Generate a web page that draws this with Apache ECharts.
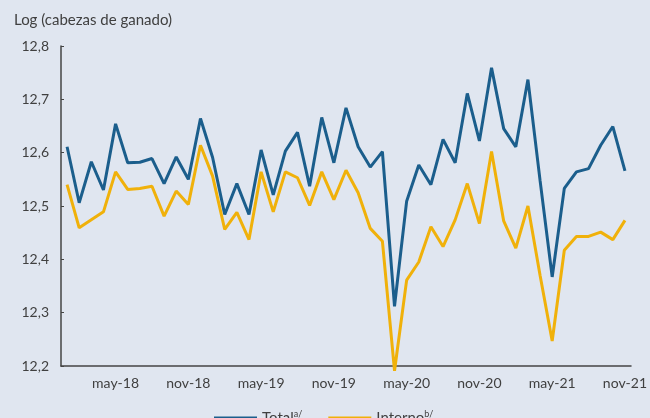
<!DOCTYPE html>
<html><head><meta charset="utf-8">
<script src="https://cdn.jsdelivr.net/npm/echarts@6/dist/echarts.min.js"></script>
<style>html,body{margin:0;padding:0;background:#e0e6f0;}#c{width:650px;height:418px;}</style>
</head><body><div id="c"></div>
<script>
const months = ['ene','feb','mar','abr','may','jun','jul','ago','sep','oct','nov','dic'];
const categories = [];
for (let y = 18; y <= 21; y++) for (let m = 0; m < 12; m++) { if (y === 21 && m > 10) break; categories.push(months[m] + '-' + y); }
const total = [12.611,12.506,12.583,12.530,12.654,12.581,12.582,12.589,12.542,12.592,12.550,12.664,
12.591,12.484,12.542,12.484,12.605,12.521,12.603,12.638,12.537,12.666,12.581,12.684,
12.611,12.573,12.602,12.312,12.509,12.577,12.540,12.625,12.581,12.711,12.622,12.759,
12.645,12.611,12.737,12.548,12.367,12.533,12.564,12.570,12.614,12.649,12.566];
const interno = [12.540,12.459,12.474,12.489,12.564,12.531,12.533,12.537,12.481,12.528,12.503,12.614,
12.556,12.456,12.488,12.437,12.564,12.489,12.564,12.553,12.501,12.564,12.512,12.567,
12.525,12.458,12.434,12.191,12.361,12.395,12.461,12.424,12.474,12.542,12.467,12.602,
12.472,12.421,12.500,12.370,12.247,12.417,12.443,12.443,12.451,12.437,12.473];
const yTicks = [12.2, 12.8, 0.1];
const font = 'Lato, "Open Sans", sans-serif';
const chart = echarts.init(document.getElementById('c'));
chart.setOption({
  backgroundColor: '#e0e6f0',
  animation: false,
  title: { text: 'Log (cabezas de ganado)', left: 9, top: 8, textStyle: { fontFamily: font, fontSize: 15, fontWeight: 'normal', color: '#404040' } },
  grid: { left: 61, right: 13, top: 46, bottom: 52 },
  legend: {
    left: 209, top: 405, itemWidth: 43, itemHeight: 3, itemGap: 26, icon: 'rect',
    formatter: n => n === 'Total' ? '{n|Total}{s|a/}' : '{n|Interno}{s|b/}',
    textStyle: { fontFamily: font, color: '#404040', rich: { n: { fontSize: 15, fontFamily: font, color: '#404040' }, s: { fontSize: 9, fontFamily: font, color: '#404040', padding: [0,0,7,0] } } }
  },
  xAxis: {
    type: 'category', data: categories, boundaryGap: true,
    axisLine: { lineStyle: { color: '#444', width: 1.5 } },
    axisTick: { inside: true, length: 3, interval: i => i % 2 === 0, lineStyle: { color: '#666' } },
    axisLabel: { interval: i => i % 6 === 4, fontFamily: font, fontSize: 14, color: '#404040', margin: 10 }
  },
  yAxis: {
    type: 'value', min: yTicks[0], max: yTicks[1], interval: yTicks[2],
    splitLine: { show: false },
    axisLine: { show: true, lineStyle: { color: '#444', width: 1.5 } },
    axisTick: { show: true, inside: true, length: 3, lineStyle: { color: '#444' } },
    axisLabel: { fontFamily: font, fontSize: 14, color: '#404040', margin: 12, formatter: v => v.toFixed(1).replace('.', ',') }
  },
  series: [
    { name: 'Total', type: 'line', data: total, symbol: 'none', clip: false, lineStyle: { width: 3, color: '#1b5e8c' }, itemStyle: { color: '#1b5e8c' } },
    { name: 'Interno', type: 'line', data: interno, symbol: 'none', clip: false, lineStyle: { width: 3, color: '#f0b10a' }, itemStyle: { color: '#f0b10a' } }
  ]
});
</script></body></html>
